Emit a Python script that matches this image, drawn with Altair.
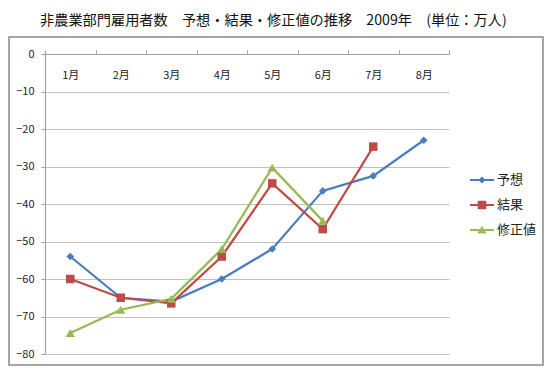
import altair as alt
import pandas as pd

months = ["1月", "2月", "3月", "4月", "5月", "6月", "7月", "8月"]
series_names = ["予想", "結果", "修正値"]
forecast = [-54, -65, -66, -60, -52, -36.5, -32.5, -23]
actual = [-60, -65, -66.5, -54, -34.5, -46.7, -24.7, None]
revised = [-74.4, -68.2, -65.3, -52, -30.3, -44.5, None, None]
colors = ["#4A7EBB", "#BE4B48", "#98B954"]
y_ticks = [0, -10, -20, -30, -40, -50, -60, -70, -80]

rows = []
for name, vals in zip(series_names, [forecast, actual, revised]):
    for m, v in zip(months, vals):
        if v is not None:
            rows.append({"month": m, "series": name, "value": v})
df = pd.DataFrame(rows)

# legend symbols: a line segment with the marker on it (unit square -1..1)
leg_paths = [
    "M-1,-0.09L1,-0.09L1,0.09L-1,0.09Z M0,-0.3L0.3,0L0,0.3L-0.3,0Z",
    "M-1,-0.09L1,-0.09L1,0.09L-1,0.09Z M-0.36,-0.36L0.36,-0.36L0.36,0.36L-0.36,0.36Z",
    "M-1,-0.09L1,-0.09L1,0.09L-1,0.09Z M0,-0.36L0.38,0.3L-0.38,0.3Z",
]

x_enc = alt.X("month:N", sort=months,
              scale=alt.Scale(type="band", domain=months, paddingInner=0, paddingOuter=0),
              axis=alt.Axis(orient="top", title=None, tickBand="extent", grid=False,
                            domainColor="#A0A0A0", domainWidth=1.2, tickColor="#A0A0A0",
                            tickSize=4, labelAngle=0, labelPadding=-30, labelFontSize=11,
                            labelColor="#222", labelFont="Noto Sans CJK JP"))
y_enc = alt.Y("value:Q", scale=alt.Scale(domain=[-80, 0], nice=False),
              axis=alt.Axis(title=None, values=y_ticks, format="d", grid=True,
                            gridColor="#C0C0C0", gridWidth=1.2, domainColor="#A0A0A0",
                            domainWidth=1.2, tickColor="#A0A0A0", tickSize=4,
                            labelPadding=7, labelFontSize=11, labelColor="#222",
                            labelFont="Noto Sans CJK JP"))
color_scale = alt.Scale(domain=series_names, range=colors)

frame = alt.Chart(alt.Data(values=[{}])).mark_rect(
    fill=None, fillOpacity=0, stroke="#8A8A8A", strokeWidth=1.5
).encode(x=alt.value(-36), x2=alt.value(498), y=alt.value(-17), y2=alt.value(311))

lines = alt.Chart(df).mark_line(strokeWidth=2.25).encode(
    x=x_enc, y=y_enc,
    color=alt.Color("series:N", scale=color_scale, legend=None),
    detail="series:N",
)

points = alt.Chart(df).mark_point(filled=True, opacity=1).encode(
    x=x_enc, y=y_enc,
    color=alt.Color("series:N", scale=color_scale, legend=None),
    shape=alt.Shape("series:N", scale=alt.Scale(domain=series_names,
                                                 range=["diamond", "square", "triangle-up"]),
                    legend=None),
    size=alt.Size("series:N", scale=alt.Scale(domain=series_names, range=[60, 85, 80]),
                  legend=None),
)

legend_layer = alt.Chart(df).transform_filter("false").mark_point(filled=True, opacity=1).encode(
    color=alt.Color("series:N", scale=alt.Scale(domain=series_names, range=colors),
                    legend=alt.Legend(title=None, orient="none", legendX=425, legendY=114,
                                      symbolSize=576, symbolStrokeWidth=0, symbolOpacity=1,
                                      labelFontSize=13, labelColor="#222",
                                      labelFont="Noto Sans CJK JP", labelOffset=3,
                                      rowPadding=6)),
    shape=alt.Shape("series:N", scale=alt.Scale(domain=series_names, range=leg_paths),
                    legend=alt.Legend(title=None, orient="none", legendX=425, legendY=114)),
)

chart = alt.layer(frame, lines, points, legend_layer).resolve_scale(
    color="independent", shape="independent"
).properties(
    width=404, height=300,
    padding={"left": 37, "top": 46, "right": 95, "bottom": 12},
    autosize=alt.AutoSizeParams(type="none"),
    title=alt.TitleParams("非農業部門雇用者数　予想・結果・修正値の推移　2009年　(単位：万人)",
                          anchor="start", frame="group", dx=-5, offset=8, fontSize=14.2,
                          fontWeight="normal", font="Noto Sans CJK JP", color="#111"),
).configure_view(stroke=None)

chart.save("out.html", embed_options={"renderer": "svg", "actions": False})
